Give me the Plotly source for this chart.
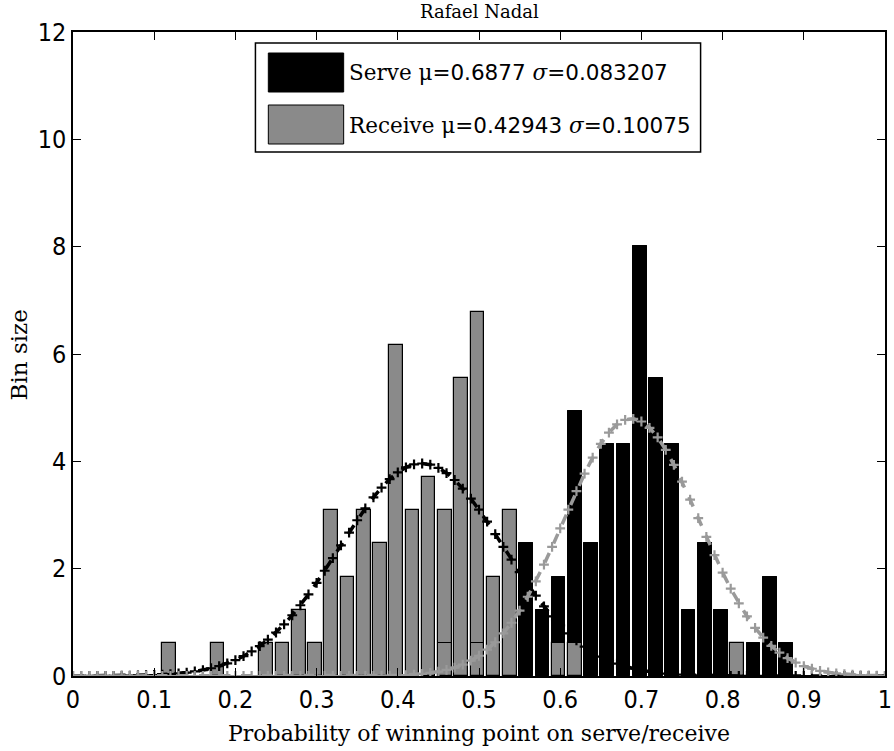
import plotly.graph_objects as go

# ---------------- data ----------------
bin_centers = [0.118, 0.138, 0.158, 0.178, 0.198, 0.218, 0.238, 0.258, 0.278, 0.298,
               0.318, 0.338, 0.358, 0.378, 0.398, 0.418, 0.438, 0.458, 0.478, 0.498,
               0.518, 0.538, 0.558, 0.578, 0.598, 0.618, 0.638, 0.658, 0.678, 0.698,
               0.718, 0.738, 0.758, 0.778, 0.798, 0.818, 0.838, 0.858, 0.878]

serve_density = [None, None, None, None, None, None, None, None, None, None,
                 None, None, None, None, None, None, None, 0.62, None, 0.62,
                 None, None, 2.47, 1.23, 1.85, 4.94, 2.47, 4.32, 4.32, 8.02,
                 5.56, 4.32, 1.23, 2.47, 1.23, None, 0.62, 1.85, 0.62]

receive_density = [0.62, None, None, 0.62, None, None, 0.62, 0.62, 1.23, 0.62,
                   3.09, 1.85, 3.09, 2.47, 6.17, 3.09, 3.70, 3.09, 5.56, 6.79,
                   1.85, 3.09, None, None, 0.62, 0.62, None, None, None, None,
                   None, None, None, None, None, 0.62, None, None, None]

pdf_x = [0.00, 0.01, 0.02, 0.03, 0.04, 0.05, 0.06, 0.07, 0.08, 0.09,
         0.10, 0.11, 0.12, 0.13, 0.14, 0.15, 0.16, 0.17, 0.18, 0.19,
         0.20, 0.21, 0.22, 0.23, 0.24, 0.25, 0.26, 0.27, 0.28, 0.29,
         0.30, 0.31, 0.32, 0.33, 0.34, 0.35, 0.36, 0.37, 0.38, 0.39,
         0.40, 0.41, 0.42, 0.43, 0.44, 0.45, 0.46, 0.47, 0.48, 0.49,
         0.50, 0.51, 0.52, 0.53, 0.54, 0.55, 0.56, 0.57, 0.58, 0.59,
         0.60, 0.61, 0.62, 0.63, 0.64, 0.65, 0.66, 0.67, 0.68, 0.69,
         0.70, 0.71, 0.72, 0.73, 0.74, 0.75, 0.76, 0.77, 0.78, 0.79,
         0.80, 0.81, 0.82, 0.83, 0.84, 0.85, 0.86, 0.87, 0.88, 0.89,
         0.90, 0.91, 0.92, 0.93, 0.94, 0.95, 0.96, 0.97, 0.98, 0.99, 1.00]

receive_pdf = [0.000, 0.001, 0.001, 0.002, 0.002, 0.003, 0.005, 0.007, 0.010, 0.014,
               0.019, 0.026, 0.035, 0.048, 0.064, 0.085, 0.111, 0.144, 0.185, 0.235,
               0.296, 0.370, 0.457, 0.558, 0.676, 0.811, 0.963, 1.132, 1.318, 1.520,
               1.735, 1.961, 2.195, 2.433, 2.671, 2.902, 3.123, 3.328, 3.511, 3.668,
               3.795, 3.887, 3.943, 3.960, 3.938, 3.878, 3.782, 3.652, 3.491, 3.305,
               3.099, 2.876, 2.644, 2.406, 2.169, 1.935, 1.710, 1.496, 1.296, 1.112,
               0.945, 0.794, 0.662, 0.546, 0.446, 0.361, 0.289, 0.229, 0.180, 0.140,
               0.108, 0.082, 0.062, 0.046, 0.034, 0.025, 0.018, 0.013, 0.009, 0.007,
               0.005, 0.003, 0.002, 0.002, 0.001, 0.001, 0.000, 0.000, 0.000, 0.000,
               0.000, 0.000, 0.000, 0.000, 0.000, 0.000, 0.000, 0.000, 0.000, 0.000, 0.000]

serve_pdf = [0.000, 0.000, 0.000, 0.000, 0.000, 0.000, 0.000, 0.000, 0.000, 0.000,
             0.000, 0.000, 0.000, 0.000, 0.000, 0.000, 0.000, 0.000, 0.000, 0.000,
             0.000, 0.000, 0.000, 0.000, 0.000, 0.000, 0.000, 0.000, 0.000, 0.000,
             0.000, 0.000, 0.000, 0.000, 0.001, 0.001, 0.002, 0.003, 0.005, 0.008,
             0.012, 0.018, 0.027, 0.040, 0.057, 0.081, 0.113, 0.156, 0.213, 0.285,
             0.377, 0.490, 0.629, 0.795, 0.992, 1.219, 1.477, 1.763, 2.075, 2.406,
             2.751, 3.100, 3.444, 3.770, 4.068, 4.327, 4.536, 4.687, 4.774, 4.793,
             4.742, 4.625, 4.447, 4.214, 3.935, 3.622, 3.287, 2.940, 2.592, 2.252,
             1.928, 1.628, 1.355, 1.111, 0.898, 0.715, 0.562, 0.435, 0.332, 0.250,
             0.185, 0.135, 0.097, 0.069, 0.048, 0.033, 0.023, 0.015, 0.010, 0.007, 0.004]

x_ticks = [0, 0.1, 0.2, 0.3, 0.4, 0.5, 0.6, 0.7, 0.8, 0.9, 1]
x_tick_text = ["0", "0.1", "0.2", "0.3", "0.4", "0.5", "0.6", "0.7", "0.8", "0.9", "1"]
y_ticks = [0, 2, 4, 6, 8, 10, 12]

title_text = "Rafael Nadal"
x_title = "Probability of winning point on serve/receive"
y_title = "Bin size"
serve_label = ("Serve", "0.6877", "0.083207")
receive_label = ("Receive", "0.42943", "0.10075")

# ---------------- styles ----------------
BLACK = "#000000"
GRAY_BAR = "#8a8a8a"
GRAY_LINE = "#9a9a9a"
SERIF = "DejaVu Serif, Liberation Serif, serif"
NUMF = "DejaVu Sans"
SANS = "Liberation Sans Narrow, DejaVu Sans Condensed, Liberation Sans, sans-serif"
BAR_W = 0.0168

fig = go.Figure()

fig.add_trace(go.Bar(x=bin_centers, y=serve_density, width=BAR_W,
                     marker=dict(color=BLACK, line=dict(color=BLACK, width=1)),
                     opacity=1, showlegend=False))
fig.add_trace(go.Bar(x=bin_centers, y=receive_density, width=BAR_W,
                     marker=dict(color=GRAY_BAR, line=dict(color=BLACK, width=1.2)),
                     opacity=1, showlegend=False))
# outline of serve bars hidden behind receive bars
fig.add_trace(go.Bar(x=bin_centers, y=serve_density, width=BAR_W,
                     marker=dict(color="rgba(0,0,0,0)", line=dict(color=BLACK, width=1)),
                     opacity=1, showlegend=False))

fig.add_trace(go.Scatter(x=pdf_x, y=receive_pdf, mode="lines+markers",
                         line=dict(color=BLACK, width=3.5, dash="dash"),
                         marker=dict(symbol="cross-thin", size=7,
                                     line=dict(color=BLACK, width=2.2)),
                         showlegend=False))
fig.add_trace(go.Scatter(x=pdf_x, y=serve_pdf, mode="lines+markers",
                         line=dict(color=GRAY_LINE, width=3.5, dash="dash"),
                         marker=dict(symbol="cross-thin", size=7,
                                     line=dict(color=GRAY_LINE, width=2.2)),
                         showlegend=False))

L, R, T, B = 73, 2, 32, 75
W, H = 894, 751
pw, ph = W - L - R, H - T - B


def px_x(p):
    return (p - L) / pw


def px_y(p):
    return (H - B - p) / ph


shapes = [
    # legend box
    dict(type="rect", xref="paper", yref="paper",
         x0=px_x(257), x1=px_x(706), y0=px_y(152), y1=px_y(43),
         line=dict(color=BLACK, width=1.5), fillcolor="white", layer="above"),
    dict(type="rect", xref="paper", yref="paper",
         x0=px_x(270), x1=px_x(346), y0=px_y(92), y1=px_y(53),
         line=dict(color=BLACK, width=1), fillcolor=BLACK, layer="above"),
    dict(type="rect", xref="paper", yref="paper",
         x0=px_x(270), x1=px_x(346), y0=px_y(144), y1=px_y(105),
         line=dict(color=BLACK, width=1), fillcolor=GRAY_BAR, layer="above"),
]


def legend_text(lbl):
    name, mu, sig = lbl
    return (f"{name} μ=<span style='font-family:{NUMF}'>{mu}</span> "
            f"<i>σ</i>=<span style='font-family:{NUMF}'>{sig}</span>")


annotations = [
    dict(text=legend_text(serve_label), xref="paper", yref="paper",
         x=px_x(349), y=px_y(72), xanchor="left", yanchor="middle", showarrow=False,
         font=dict(family=SERIF, size=21.5, color=BLACK)),
    dict(text=legend_text(receive_label), xref="paper", yref="paper",
         x=px_x(349), y=px_y(125), xanchor="left", yanchor="middle", showarrow=False,
         font=dict(family=SERIF, size=21.5, color=BLACK)),
    dict(text=x_title, xref="paper", yref="paper", x=0.5, y=px_y(733),
         xanchor="center", yanchor="middle", showarrow=False,
         font=dict(family=SERIF, size=22, color=BLACK)),
    dict(text=y_title, xref="paper", yref="paper", x=px_x(19), y=px_y(355),
         xanchor="center", yanchor="middle", showarrow=False, textangle=-90,
         font=dict(family=SERIF, size=23, color=BLACK)),
    dict(text=title_text, xref="paper", yref="paper", x=0.5, y=px_y(11),
         xanchor="center", yanchor="middle", showarrow=False,
         font=dict(family=SERIF, size=18, color=BLACK)),
]

fig.update_layout(
    width=W, height=H,
    margin=dict(l=L, r=R, t=T, b=B),
    paper_bgcolor="white", plot_bgcolor="white",
    barmode="overlay", bargap=0,
    shapes=shapes, annotations=annotations,
    showlegend=False,
)

fig.update_xaxes(range=[0, 1], tickvals=x_ticks, ticktext=x_tick_text,
                 ticks="inside", ticklen=8, tickwidth=1, tickcolor=BLACK,
                 showline=True, linecolor=BLACK, linewidth=1.5, mirror="ticks",
                 showgrid=False, zeroline=False, ticklabeloverflow="allow",
                 tickfont=dict(family=SANS, size=25, color=BLACK))
fig.update_yaxes(range=[0, 12], tickvals=y_ticks,
                 ticks="inside", ticklen=8, tickwidth=1, tickcolor=BLACK,
                 showline=True, linecolor=BLACK, linewidth=1.5, mirror="ticks",
                 showgrid=False, zeroline=False, ticklabeloverflow="allow",
                 tickfont=dict(family=SANS, size=25, color=BLACK))

fig.write_html("out.html")
